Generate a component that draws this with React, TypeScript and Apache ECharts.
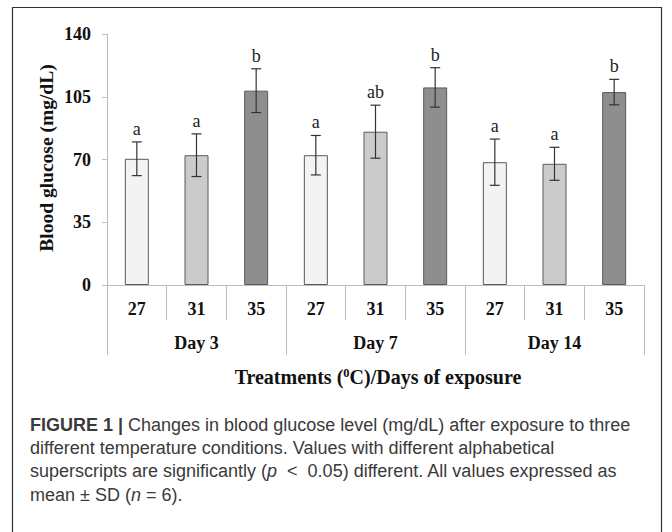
import React, { useEffect, useRef } from "react";
import * as echarts from "echarts";

const categories = ["27", "31", "35", "27", "31", "35", "27", "31", "35"];
const days = ["Day 3", "Day 7", "Day 14"];
const means = [70.4, 72.4, 108.4, 72.4, 85.5, 110.2, 68.5, 67.6, 107.6];
const sds = [9.4, 11.9, 12.2, 11.0, 14.8, 11.0, 12.9, 9.2, 7.1];
const letters = ["a", "a", "b", "a", "ab", "b", "a", "a", "b"];
const yTicks = [0, 35, 70, 105, 140];

const tempColors: Record<string, string> = {
  "27": "#f3f3f3",
  "31": "#cbcbcb",
  "35": "#8e8e8e",
};

const SERIF = "'Liberation Serif', 'Times New Roman', serif";
const SANS = "'Liberation Sans', Arial, sans-serif";
const CAP = 18;
const CAPC = "#3a3a3a";

export default function App() {
  const ref = useRef<HTMLDivElement>(null);
  useEffect(() => {
    document.body.style.margin = "0";
    const chart = echarts.init(ref.current!, null, { renderer: "svg" });
    const axisGray = "#bdbdbd";
    const option: any = {
      animation: false,
      backgroundColor: "#ffffff",
      grid: { left: 107, right: 28, top: 34, bottom: 247, containLabel: false },
      xAxis: [
        {
          type: "category",
          data: categories,
          position: "bottom",
          axisLine: { show: true, lineStyle: { color: axisGray, width: 1 } },
          axisTick: { show: true, length: 35, interval: 0, alignWithLabel: false, lineStyle: { color: axisGray } },
          axisLabel: { interval: 0, margin: 15, fontFamily: SERIF, fontWeight: "bold", fontSize: 18, color: "#111" },
        },
        {
          type: "category",
          data: days,
          position: "bottom",
          axisLine: { show: false },
          axisTick: { show: true, length: 70, interval: 0, alignWithLabel: false, lineStyle: { color: axisGray } },
          axisLabel: { interval: 0, margin: 49, fontFamily: SERIF, fontWeight: "bold", fontSize: 18, color: "#111" },
        },
      ],
      yAxis: {
        type: "value",
        min: 0,
        max: 140,
        interval: 35,
        axisLine: { show: true, lineStyle: { color: axisGray } },
        axisTick: { show: true, length: 5, lineStyle: { color: axisGray } },
        splitLine: { show: false },
        axisLabel: {
          margin: 16,
          fontFamily: SERIF,
          fontWeight: "bold",
          fontSize: 18,
          color: "#111",
          formatter: (v: number) => (yTicks.includes(v) ? String(v) : ""),
        },
      },
      series: [
        {
          type: "bar",
          xAxisIndex: 0,
          barWidth: 24,
          data: means.map((m, i) => ({
            value: m,
            itemStyle: { color: tempColors[categories[i]], borderColor: "#5a5a5a", borderWidth: 1 },
          })),
        },
        {
          type: "custom",
          xAxisIndex: 0,
          data: means.map((m, i) => [i, m, sds[i]]),
          renderItem: (params: any, api: any) => {
            const i = api.value(0);
            const m = api.value(1);
            const s = api.value(2);
            const top = api.coord([i, m + s]);
            const bot = api.coord([i, m - s]);
            const cap = 5;
            const ls = { stroke: "#333", lineWidth: 1.2 };
            return {
              type: "group",
              children: [
                { type: "line", shape: { x1: top[0], y1: top[1], x2: bot[0], y2: bot[1] }, style: ls },
                { type: "line", shape: { x1: top[0] - cap, y1: top[1], x2: top[0] + cap, y2: top[1] }, style: ls },
                { type: "line", shape: { x1: bot[0] - cap, y1: bot[1], x2: bot[0] + cap, y2: bot[1] }, style: ls },
                {
                  type: "text",
                  x: top[0],
                  y: top[1] - 4,
                  style: {
                    text: letters[params.dataIndex],
                    fontFamily: SERIF,
                    fontSize: 18,
                    fill: "#222",
                    align: "center",
                    verticalAlign: "bottom",
                  },
                },
              ],
            };
          },
          z: 5,
        },
      ],
      graphic: [
        {
          type: "rect",
          shape: { x: 12.5, y: 7.5, width: 649, height: 540 },
          style: { fill: "none", stroke: "#333", lineWidth: 1.2 },
          silent: true,
        },
        {
          type: "text",
          x: 46,
          y: 158,
          rotation: Math.PI / 2,
          style: {
            text: "Blood glucose (mg/dL)",
            fontFamily: SERIF,
            fontWeight: "bold",
            fontSize: 19.5,
            fill: "#111",
            align: "center",
            verticalAlign: "middle",
          },
        },
        {
          type: "text",
          x: 378,
          y: 377,
          style: {
            text: "{n|Treatments (}{s|0}{n|C)/Days of exposure}",
            rich: {
              n: { fontFamily: SERIF, fontWeight: "bold", fontSize: 20, fill: "#111", lineHeight: 22 },
              s: { fontFamily: SERIF, fontWeight: "bold", fontSize: 12.5, fill: "#111", lineHeight: 22, verticalAlign: "top", padding: [0, 0, 8, 0] },
            },
            align: "center",
            verticalAlign: "middle",
          },
        },
        {
          type: "text",
          x: 30,
          y: 425,
          style: {
            text: "{b|FIGURE 1 | }{n|Changes in blood glucose level (mg/dL) after exposure to three}",
            rich: {
              b: { fontFamily: SANS, fontWeight: "bold", fontSize: CAP, fill: CAPC },
              n: { fontFamily: SANS, fontSize: CAP, fill: CAPC },
            },
            align: "left",
            verticalAlign: "middle",
          },
        },
        {
          type: "text",
          x: 30,
          y: 448,
          style: {
            text: "different temperature conditions. Values with different alphabetical",
            fontFamily: SANS,
            fontSize: CAP,
            fill: CAPC,
            align: "left",
            verticalAlign: "middle",
          },
        },
        {
          type: "text",
          x: 30,
          y: 471,
          style: {
            text: "{n|superscripts are significantly (}{i|p}{n|  <  0.05) different. All values expressed as}",
            rich: {
              n: { fontFamily: SANS, fontSize: CAP, fill: CAPC },
              i: { fontFamily: SANS, fontSize: CAP, fill: CAPC, fontStyle: "italic" },
            },
            align: "left",
            verticalAlign: "middle",
          },
        },
        {
          type: "text",
          x: 30,
          y: 495,
          style: {
            text: "{n|mean ± SD (}{i|n}{n| = 6).}",
            rich: {
              n: { fontFamily: SANS, fontSize: CAP, fill: CAPC },
              i: { fontFamily: SANS, fontSize: CAP, fill: CAPC, fontStyle: "italic" },
            },
            align: "left",
            verticalAlign: "middle",
          },
        },
      ],
    };
    chart.setOption(option);
    return () => chart.dispose();
  }, []);
  return <div ref={ref} style={{ width: 672, height: 532 }} />;
}
